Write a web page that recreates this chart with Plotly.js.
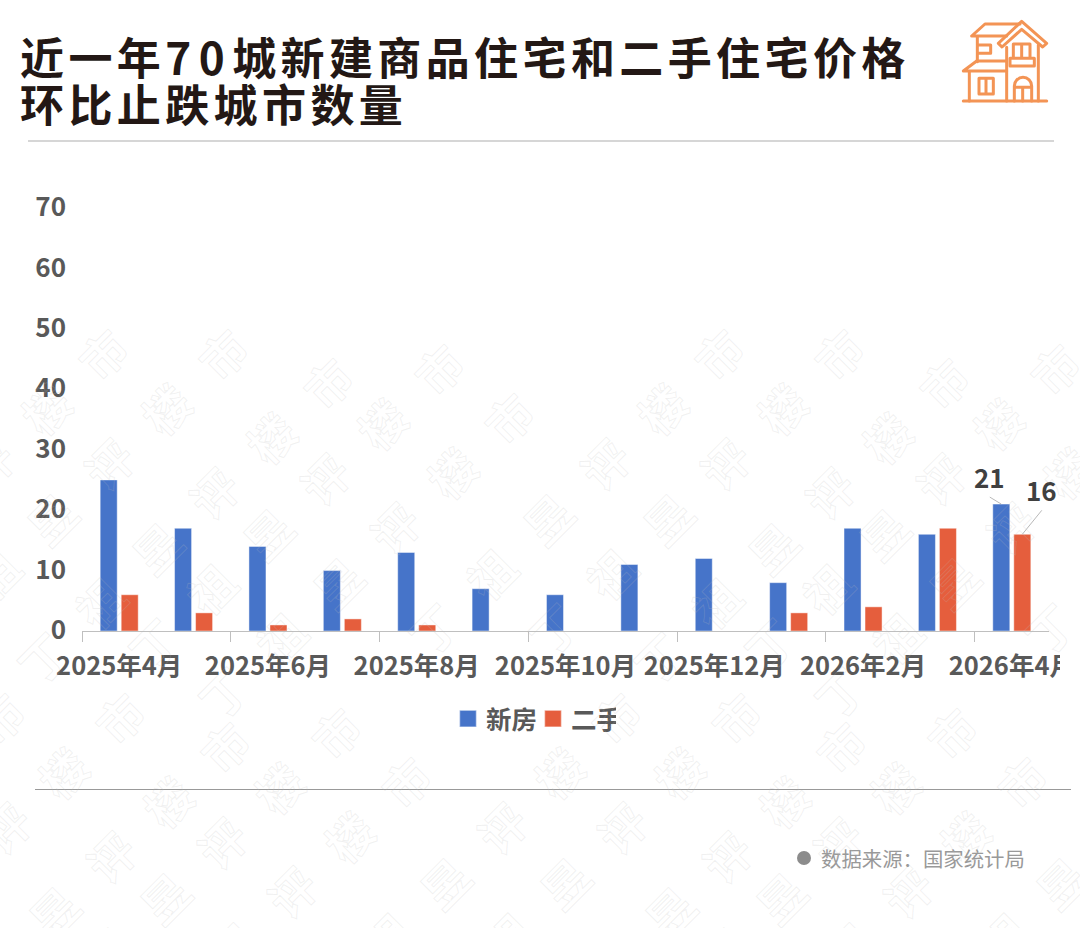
<!DOCTYPE html>
<html><head><meta charset="utf-8">
<script src="https://cdn.plot.ly/plotly-3.0.1.min.js"></script>
<style>
html,body{margin:0;padding:0;background:#fff;}
#wrap{position:relative;width:1080px;height:928px;overflow:hidden;background:#fff;}
#chart{position:absolute;left:0;top:0;width:1080px;height:928px;}
#mask{position:absolute;left:1060px;top:645px;width:20px;height:40px;background:#fff;}
#icon{position:absolute;left:780px;top:0;width:300px;height:150px;}
#wm{position:absolute;left:0;top:0;width:1080px;height:928px;pointer-events:none;}
#wm text{font-family:"Noto Sans CJK SC";font-weight:700;font-size:46px;fill:none;stroke:rgba(190,190,190,.22);stroke-width:.9;text-anchor:middle;dominant-baseline:central;}
.legendpoints path{transform:translate(22px,0) scale(1.4);}
.gtitle{letter-spacing:4.4px;}
</style></head><body>
<div id="wrap">
<div id="chart"></div>
<div id="mask"></div>
<svg id="icon" viewBox="0 0 900 450" fill="none" stroke="#F39455" stroke-width="9" stroke-linecap="round" stroke-linejoin="round">
<path d="M550,303H800"/>
<path d="M575,108L615,72H720M575,108H680"/>
<path d="M655,130L725,64L800,130L788,141L725,88L666,141Z"/>
<path d="M680,142V303M775,135V303"/>
<path d="M592,110V185M592,135H632V160H592"/>
<path d="M550,213L590,183H680M550,213H680M568,213V303"/>
<path d="M597,235H640V282H597ZM618,235V282"/>
<path d="M700,132H750V175H700ZM725,132V175M690,175H763V198H690Z"/>
<path d="M703,303V258A26,26 0 0 1 755,258V303M703,262H755M728,262V303"/>
</svg>
<svg id="wm"></svg>
</div>
<script>
const categories=["2025年4月","2025年5月","2025年6月","2025年7月","2025年8月","2025年9月","2025年10月","2025年11月","2025年12月","2026年1月","2026年2月","2026年3月","2026年4月"];
const newHomes=[25,17,14,10,13,7,6,11,12,8,17,16,21];
const resale=[6,3,1,2,1,0,0,0,0,3,4,17,16];
const seriesNames=["新房","二手"];
const titleLine1='近一年<span style="letter-spacing:7.5px">70</span>城新建商品住宅和二手住宅价格';
const titleLine2='环比止跌城市数量';
const sourceText='数据来源：国家统计局';
const watermarkChars=["丁","祖","昱","评","楼","市"];

const FONT='"Noto Sans CJK SC","Noto Sans",sans-serif';
const L=82,R=1049,T=208,B=631,W=1080,H=928;
const px=x=>(x-L)/(R-L), py=y=>(B-y)/(B-T);
const last=categories.length-1;

const traces=[
 {type:'bar',name:seriesNames[0],x:categories,y:newHomes,marker:{color:'#4674C9',line:{color:'rgba(255,255,255,.45)',width:1}}},
 {type:'bar',name:seriesNames[1],x:categories,y:resale,marker:{color:'#E55E3D',line:{color:'rgba(255,255,255,.45)',width:1}}}
];
const layout={
 width:W,height:H,margin:{l:L,r:W-R,t:T,b:H-B,pad:0},
 paper_bgcolor:'rgba(0,0,0,0)',plot_bgcolor:'rgba(0,0,0,0)',
 font:{family:FONT,color:'#595959'},
 barmode:'group',bargap:0.435,bargroupgap:0.19,
 title:{text:titleLine1+'<br>'+titleLine2,xref:'container',yref:'container',x:20/W,xanchor:'left',y:1-75/H,yanchor:'top',
   font:{family:FONT,size:44,weight:700,color:'#231815'}},
 xaxis:{type:'category',categoryorder:'array',categoryarray:categories,range:[-0.5,last+0.5],fixedrange:true,
   tickmode:'linear',tick0:0,dtick:2,tickson:'boundaries',ticks:'outside',ticklen:10,tickcolor:'#BFBFBF',tickwidth:1,
   showline:true,linecolor:'#BFBFBF',linewidth:1,showgrid:false,zeroline:false,tickangle:0,ticklabelstandoff:12,
   tickfont:{family:FONT,size:25.5,weight:700,color:'#595959'}},
 yaxis:{range:[0,70],tickmode:'linear',tick0:0,dtick:10,showgrid:false,zeroline:false,showline:false,ticks:'',fixedrange:true,
   ticklabelstandoff:15,ticklabelshift:-1,
   tickfont:{family:FONT,size:26,weight:700,color:'#595959'}},
 showlegend:true,
 legend:{orientation:'h',x:px(446),xanchor:'left',y:py(719),yanchor:'middle',itemclick:false,itemdoubleclick:false,itemwidth:30,
   entrywidth:40,entrywidthmode:'pixels',
   traceorder:'normal',bgcolor:'rgba(0,0,0,0)',font:{family:FONT,size:25.5,weight:700,color:'#595959'}},
 shapes:[
  {type:'line',xref:'paper',yref:'paper',x0:px(28),x1:px(1054),y0:py(141),y1:py(141),line:{color:'#C9C9C9',width:1.6}},
  {type:'line',xref:'paper',yref:'paper',x0:px(35),x1:px(1071),y0:py(789.5),y1:py(789.5),line:{color:'#999999',width:1.2}},
  {type:'circle',xref:'paper',yref:'paper',x0:px(797),x1:px(811),y0:py(851),y1:py(865),fillcolor:'#8C8C8C',line:{width:0}}
 ],
 annotations:[
  {x:categories[last],y:newHomes[last],xref:'x',yref:'y',xshift:-10.5,text:String(newHomes[last]),showarrow:true,arrowhead:0,arrowwidth:0.8,arrowcolor:'#A6A6A6',
   axref:'pixel',ayref:'pixel',ax:-11.5,ay:-7,xanchor:'center',yanchor:'bottom',font:{family:FONT,size:26,weight:700,color:'#404040'}},
  {x:categories[last],y:resale[last],xref:'x',yref:'y',xshift:10.5,text:String(resale[last]),showarrow:true,arrowhead:0,arrowwidth:0.8,arrowcolor:'#A6A6A6',
   axref:'pixel',ayref:'pixel',ax:19.5,ay:-24,xanchor:'center',yanchor:'bottom',font:{family:FONT,size:26,weight:700,color:'#404040'}},
  {x:px(819),y:py(858),xref:'paper',yref:'paper',xanchor:'left',yanchor:'middle',showarrow:false,text:sourceText,font:{family:FONT,size:20.4,color:'#999999'}}
 ]
};

Plotly.newPlot('chart',traces,layout,{displayModeBar:false,staticPlot:true}).then(()=>{
  const lines=document.querySelectorAll('.gtitle .line');
  if(lines[1]) lines[1].setAttribute('dy','1.07em');
});

// faint diagonal watermark
const ns='http://www.w3.org/2000/svg',wm=document.getElementById('wm');
const heads=[[102,353],[222,353],[327,382],[438,368],[508,417]];
const blocks=[[0,0],[-103,364]];
for(const b of blocks)for(let k=-1;k<=2;k++)for(const h of heads){
  watermarkChars.slice().reverse().forEach((c,i)=>{
    const x=h[0]+b[0]+k*616-57*i,y=h[1]+b[1]+55*i;
    if(x<-40||x>1120||y>970)return;
    const t=document.createElementNS(ns,'text');
    t.textContent=c;t.setAttribute('transform',`translate(${x},${y}) rotate(-45)`);
    wm.appendChild(t);
  });
}
</script>
</body></html>
